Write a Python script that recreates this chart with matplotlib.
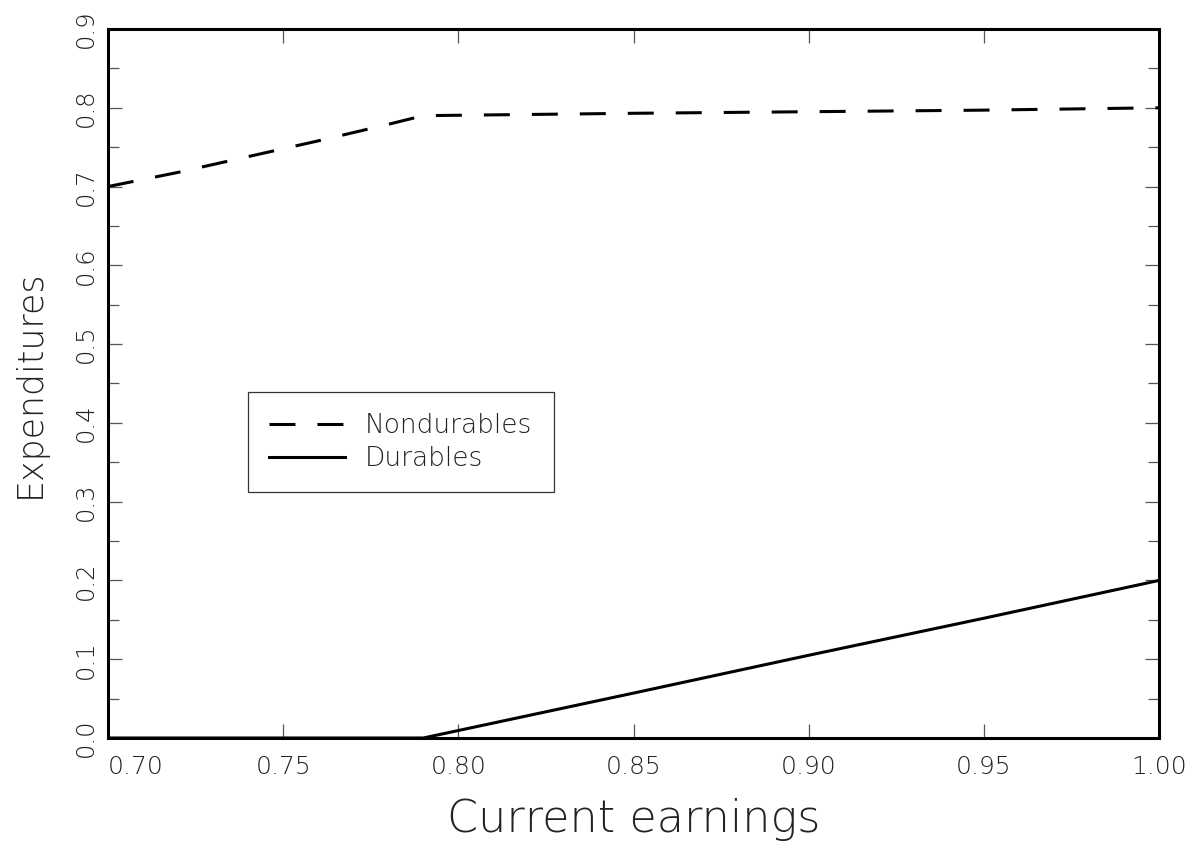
import matplotlib.pyplot as plt
import numpy as np

# values
earnings = [0.70, 0.72, 0.74, 0.76, 0.78, 0.79, 0.85, 0.90, 0.95, 1.00]
nondurables = [0.700, 0.718, 0.738, 0.758, 0.779, 0.790, 0.793, 0.795, 0.797, 0.800]
durables = [0.0, 0.0, 0.0, 0.0, 0.0, 0.0, 0.057, 0.105, 0.152, 0.200]

xticks = [0.70, 0.75, 0.80, 0.85, 0.90, 0.95, 1.00]
yticks = [0.0, 0.1, 0.2, 0.3, 0.4, 0.5, 0.6, 0.7, 0.8, 0.9]

plt.rcParams['font.family'] = ['DejaVu Sans']
txt = '#222222'

fig = plt.figure(figsize=(11.95, 8.5), dpi=100)
ax = fig.add_axes([108 / 1195, 1 - 738 / 850, (1159 - 108) / 1195, (738 - 29) / 850])

ax.plot(earnings, nondurables, color='black', lw=2.2, dashes=(8.5, 7.2),
        solid_capstyle='butt', dash_capstyle='butt', label='Nondurables')
ax.plot(earnings, durables, color='black', lw=2.2, label='Durables')

ax.set_xlim(0.70, 1.00)
ax.set_ylim(0.0, 0.9)

ax.set_xticks(xticks)
ax.set_xticklabels(['%.2f' % v for v in xticks], fontsize=18, color=txt,
                   fontweight='light')
ax.get_xticklabels()[0].set_horizontalalignment('left')
ax.set_yticks(yticks)
ax.set_yticklabels(['%.1f' % v for v in yticks], fontsize=17.5, color=txt,
                   rotation=90, va='center', fontweight='light')
ax.set_yticks(np.arange(0.05, 0.9, 0.1), minor=True)

ax.tick_params(axis='x', which='major', direction='in', length=10, width=0.9,
               color='#555555', top=True, pad=12)
ax.tick_params(axis='y', which='major', direction='in', length=10, width=0.9,
               color='#555555', right=True, pad=7)
ax.tick_params(axis='y', which='minor', direction='in', length=8, width=0.9,
               color='#555555', right=True)

for s in ax.spines.values():
    s.set_linewidth(2.2)

ax.set_xlabel('Current earnings', fontsize=32, color=txt, fontweight='light')
ax.set_ylabel('Expenditures', fontsize=25, color=txt, fontweight='light')
ax.xaxis.set_label_coords(0.5, -0.085)
ax.yaxis.set_label_coords(-0.058, 0.5)

leg = ax.legend(loc='upper left', bbox_to_anchor=(0.133, 0.488), fontsize=19,
                frameon=True, fancybox=False, shadow=False, handlelength=2.9,
                handletextpad=0.75, borderpad=0.8, labelspacing=0.3,
                borderaxespad=0)
leg.get_frame().set_edgecolor('black')
leg.get_frame().set_linewidth(0.9)
for t in leg.get_texts():
    t.set_color(txt)
    t.set_fontweight('light')

fig.savefig('out.png', dpi=100)
